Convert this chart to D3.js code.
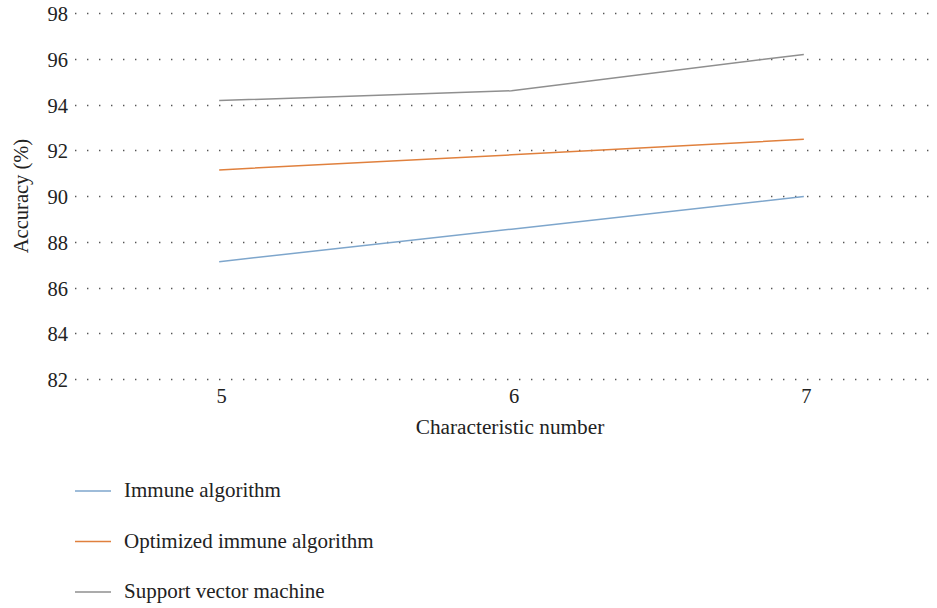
<!DOCTYPE html>
<html>
<head>
<meta charset="utf-8">
<script src="https://cdn.jsdelivr.net/npm/d3@7"></script>
<style>
  body { margin: 0; background: #fff; }
  svg { display: block; font-family: "Liberation Serif", "DejaVu Serif", serif; }
</style>
</head>
<body>
<svg id="chart" width="937" height="608"></svg>
<script>
// data
var features = [5, 6, 7];
var yTicks = [82, 84, 86, 88, 90, 92, 94, 96, 98];
var immune = [87.13, 88.55, 89.98];
var optimized = [91.14, 91.8, 92.48];
var svm = [94.17, 94.6, 96.19];
var seriesNames = ['Immune algorithm', 'Optimized immune algorithm', 'Support vector machine'];
var seriesColors = ['#7ea6cc', '#e0803d', '#8f8f8f'];

var svg = d3.select('#chart');

var x = d3.scaleLinear().domain([4.5, 7.5]).range([73, 950]);
var y = d3.scaleLinear().domain([82, 98]).range([379, 13]);

// dotted grid
svg.append('g')
  .selectAll('line')
  .data(yTicks)
  .enter()
  .append('line')
  .attr('x1', 75)
  .attr('x2', 937)
  .attr('y1', function (d) { return Math.round(y(d)) + 0.5; })
  .attr('y2', function (d) { return Math.round(y(d)) + 0.5; })
  .attr('stroke', '#555')
  .attr('stroke-width', 1.3)
  .attr('stroke-dasharray', '1.4,10.6');

// y axis labels
var yAxis = d3.axisLeft(y).tickValues(yTicks).tickSize(0).tickPadding(0).tickFormat(d3.format('d'));
svg.append('g')
  .attr('transform', 'translate(68,1)')
  .call(yAxis)
  .attr('font-family', null)
  .attr('font-size', null)
  .call(function (g) { g.select('.domain').remove(); })
  .selectAll('text')
  .attr('font-size', 20.5)
  .attr('fill', '#222');

// x axis labels
var xAxis = d3.axisBottom(x).tickValues(features).tickSize(0).tickPadding(0).tickFormat(d3.format('d'));
svg.append('g')
  .attr('transform', 'translate(2,388)')
  .call(xAxis)
  .attr('font-family', null)
  .attr('font-size', null)
  .call(function (g) { g.select('.domain').remove(); })
  .selectAll('text')
  .attr('font-size', 20.5)
  .attr('fill', '#222');

svg.append('text')
  .attr('x', 510)
  .attr('y', 434)
  .attr('text-anchor', 'middle')
  .attr('font-size', 21.3)
  .attr('fill', '#222')
  .text('Characteristic number');

svg.append('text')
  .attr('transform', 'translate(28,196) rotate(-90)')
  .attr('text-anchor', 'middle')
  .attr('font-size', 20.5)
  .attr('fill', '#222')
  .text('Accuracy (%)');

// lines
var line = d3.line()
  .x(function (d, i) { return x(features[i]); })
  .y(function (d) { return y(d); });

var allSeries = [immune, optimized, svm];
svg.append('g')
  .selectAll('path')
  .data(allSeries)
  .enter()
  .append('path')
  .attr('d', line)
  .attr('fill', 'none')
  .attr('stroke', function (d, i) { return seriesColors[i]; })
  .attr('stroke-width', 1.5);

// legend
var legendY = d3.scalePoint().domain(seriesNames).range([491, 592]);
var legend = svg.append('g')
  .selectAll('g')
  .data(seriesNames)
  .enter()
  .append('g')
  .attr('transform', function (d) { return 'translate(0,' + legendY(d) + ')'; });

legend.append('line')
  .attr('x1', 75)
  .attr('x2', 111)
  .attr('stroke', function (d, i) { return seriesColors[i]; })
  .attr('stroke-width', 1.5);

legend.append('text')
  .attr('x', 124)
  .attr('y', 6)
  .attr('font-size', 21)
  .attr('fill', '#222')
  .text(function (d) { return d; });
</script>
</body>
</html>
